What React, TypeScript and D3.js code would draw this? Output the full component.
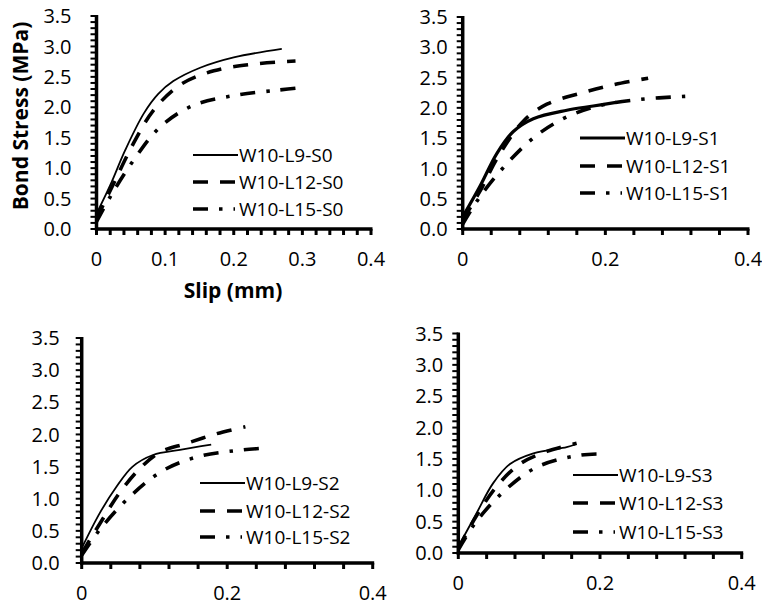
import React from "react";
import * as d3 from "d3";

type Pt = [number, number];

// ---- data (slip mm, bond stress MPa) ----
const S0_L9: Pt[] = [[0,0.25],[0.02,0.72],[0.042,1.30],[0.069,1.90],[0.09,2.22],[0.112,2.43],[0.151,2.65],[0.2,2.82],[0.27,2.96]];
const S0_L12: Pt[] = [[0,0.17],[0.025,0.75],[0.054,1.41],[0.083,1.95],[0.122,2.37],[0.171,2.60],[0.229,2.71],[0.29,2.76]];
const S0_L15: Pt[] = [[0,0.12],[0.02,0.53],[0.054,1.13],[0.093,1.68],[0.141,2.03],[0.204,2.20],[0.263,2.28],[0.305,2.33]];

const S1_L9: Pt[] = [[0,0.2],[0.024,0.70],[0.048,1.25],[0.071,1.61],[0.099,1.82],[0.146,1.96],[0.183,2.03],[0.215,2.09]];
const S1_L12: Pt[] = [[0,0.15],[0.024,0.62],[0.05,1.2],[0.085,1.78],[0.118,2.06],[0.165,2.24],[0.211,2.38],[0.26,2.49]];
const S1_L15: Pt[] = [[0,0.08],[0.024,0.53],[0.062,1.08],[0.104,1.55],[0.146,1.85],[0.193,2.04],[0.249,2.14],[0.312,2.19]];

const S2_L9: Pt[] = [[0,0.23],[0.025,0.78],[0.048,1.19],[0.07,1.50],[0.098,1.68],[0.135,1.76],[0.178,1.84]];
const S2_L12: Pt[] = [[0,0.15],[0.027,0.65],[0.052,1.09],[0.08,1.47],[0.107,1.72],[0.144,1.86],[0.185,2.01],[0.225,2.12]];
const S2_L15: Pt[] = [[0,0.12],[0.025,0.52],[0.066,1.03],[0.112,1.44],[0.162,1.66],[0.222,1.76],[0.255,1.79]];

const S3_L9: Pt[] = [[0,0.1],[0.026,0.64],[0.049,1.11],[0.073,1.42],[0.106,1.59],[0.153,1.69],[0.165,1.73]];
const S3_L12: Pt[] = [[0,0.07],[0.025,0.58],[0.054,1.06],[0.087,1.42],[0.125,1.62],[0.167,1.75]];
const S3_L15: Pt[] = [[0,0.05],[0.024,0.48],[0.064,0.98],[0.111,1.37],[0.172,1.56],[0.21,1.58]];

const yTickLabels = ["0.0","0.5","1.0","1.5","2.0","2.5","3.0","3.5"];
const xTickLabelsFine = ["0","0.1","0.2","0.3","0.4"];
const xTickLabelsCoarse = ["0","0.2","0.4"];
const seriesNames = ["W10-L9", "W10-L12", "W10-L15"];
const suffixes = ["S0", "S1", "S2", "S3"];

const FONT = "'Open Sans', 'Noto Sans', sans-serif";

interface PanelCfg {
  x0: number; x1: number; y0: number; y1: number;
  minor: number; xLabels: string[]; yLabOff: number;
  legX: number; legRows: number[]; solidW: number;
  data: Pt[][]; suffix: string;
}

const panels: PanelCfg[] = [
  { x0: 96.5, x1: 371, y0: 229, y1: 16, minor: 0.02, xLabels: xTickLabelsFine, yLabOff: 25, legX: 193, legRows: [155, 182, 209], solidW: 1.8, data: [S0_L9, S0_L12, S0_L15], suffix: suffixes[0] },
  { x0: 462.7, x1: 748, y0: 229, y1: 17, minor: 0.04, xLabels: xTickLabelsCoarse, yLabOff: 15, legX: 580, legRows: [138, 166, 193], solidW: 3.2, data: [S1_L9, S1_L12, S1_L15], suffix: suffixes[1] },
  { x0: 81.7, x1: 372.7, y0: 563, y1: 338, minor: 0.04, xLabels: xTickLabelsCoarse, yLabOff: 22, legX: 200, legRows: [483, 511, 537], solidW: 1.8, data: [S2_L9, S2_L12, S2_L15], suffix: suffixes[2] },
  { x0: 458.3, x1: 741.7, y0: 553, y1: 333.5, minor: 0.04, xLabels: xTickLabelsCoarse, yLabOff: 15, legX: 573, legRows: [475, 503, 532], solidW: 1.8, data: [S3_L9, S3_L12, S3_L15], suffix: suffixes[3] },
];

const styles = [
  { dash: undefined as string | undefined, w: 0 },
  { dash: "15 12", w: 3.6 },
  { dash: "15 11 3.5 11", w: 3.6 },
];

function Panel({ p }: { p: PanelCfg }) {
  const x = d3.scaleLinear().domain([0, 0.4]).range([p.x0, p.x1]);
  const y = d3.scaleLinear().domain([0, 3.5]).range([p.y0, p.y1]);
  const line = d3.line<Pt>().x(d => x(d[0])).y(d => y(d[1])).curve(d3.curveCatmullRom.alpha(0.5));
  const xMinor = d3.range(0, 0.4 + 1e-9, p.minor);
  const yMinor = d3.range(0, 3.5 + 1e-9, 0.1);
  const xLabVals = p.xLabels.map(Number);
  const yLabVals = yTickLabels.map(Number);
  return (
    <g>
      {p.data.map((d, i) => (
        <path key={i} d={line(d) || ""} fill="none" stroke="#000"
          strokeWidth={i === 0 ? p.solidW : styles[i].w}
          strokeDasharray={styles[i].dash} strokeLinecap="butt" strokeLinejoin="round" />
      ))}
      {/* y axis */}
      {yMinor.map((v, i) => (
        <line key={"yt" + i} x1={p.x0 - 6} x2={p.x0} y1={y(v)} y2={y(v)} stroke="#000" strokeWidth={2} />
      ))}
      <line x1={p.x0} x2={p.x0} y1={y(0) + 1.5} y2={y(3.5) - 1} stroke="#000" strokeWidth={3.5} />
      {/* x axis */}
      {xMinor.map((v, i) => (
        <line key={"xt" + i} x1={x(v)} x2={x(v)} y1={p.y0} y2={p.y0 + 6} stroke="#000" strokeWidth={3} />
      ))}
      <line x1={p.x0 - 1.5} x2={x(0.4) + 1.5} y1={p.y0} y2={p.y0} stroke="#000" strokeWidth={3.5} />
      {yLabVals.map((v, i) => (
        <text key={"yl" + i} x={p.x0 - p.yLabOff} y={y(v)} dy="0.36em" textAnchor="end"
          fontFamily={FONT} fontSize={20} fill="#000">{yTickLabels[i]}</text>
      ))}
      {xLabVals.map((v, i) => (
        <text key={"xl" + i} x={x(v)} y={p.y0 + 37} textAnchor="middle"
          fontFamily={FONT} fontSize={20} fill="#000">{p.xLabels[i]}</text>
      ))}
      {/* legend */}
      {seriesNames.map((n, i) => (
        <g key={"lg" + i}>
          <line x1={p.legX} x2={p.legX + (i === 0 ? 45 : 42)} y1={p.legRows[i]} y2={p.legRows[i]} stroke="#000"
            strokeWidth={i === 0 ? p.solidW : styles[i].w} strokeDasharray={styles[i].dash} />
          <text x={p.legX + 46} y={p.legRows[i]} dy="0.36em" fontFamily={FONT} fontSize={19} fill="#000">
            {n + "-" + p.suffix}
          </text>
        </g>
      ))}
    </g>
  );
}

export default function App() {
  return (
    <svg width={762} height={605} style={{ position: "absolute", left: 0, top: 0, background: "#fff" }}>
      <rect width={762} height={605} fill="#fff" />
      {panels.map((p, i) => <Panel key={i} p={p} />)}
      <text x={233} y={298} textAnchor="middle" fontFamily={FONT} fontWeight="bold" fontSize={21} fill="#000">Slip (mm)</text>
      <text transform="translate(28,116) rotate(-90)" textAnchor="middle" fontFamily={FONT} fontWeight="bold" fontSize={21} fill="#000">Bond Stress (MPa)</text>
    </svg>
  );
}
